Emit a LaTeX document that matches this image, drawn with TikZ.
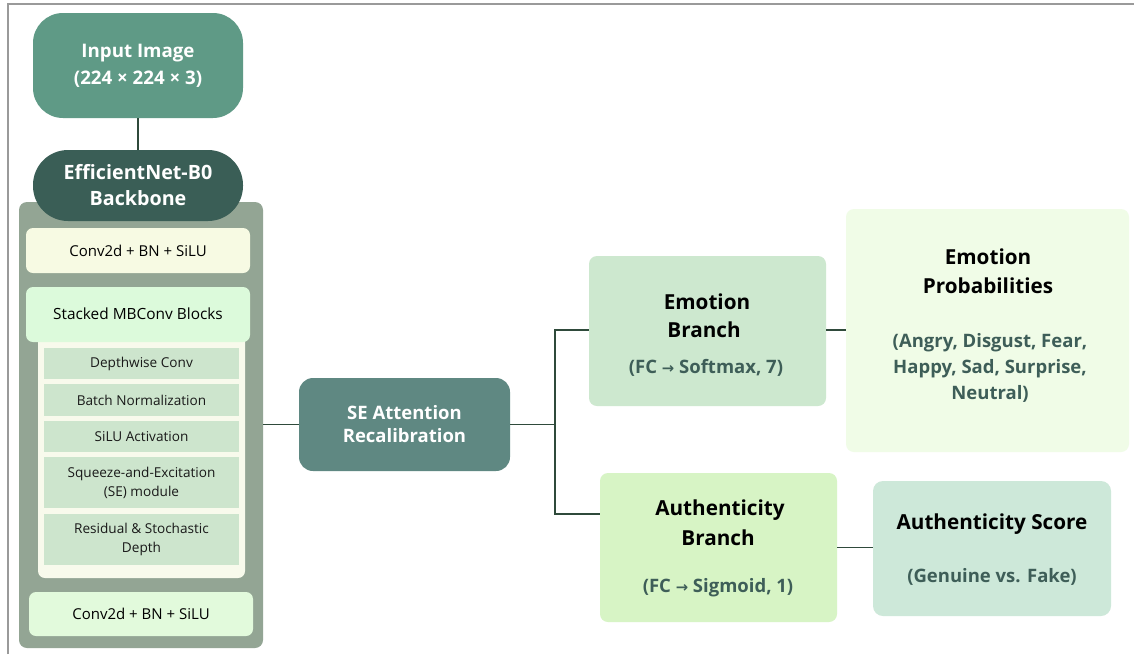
\documentclass[tikz,border=0pt]{standalone}
\usepackage{fontspec}
\setmainfont{Open Sans}
\newfontfamily\symfont{DejaVu Sans}
\definecolor{inputc}{HTML}{5F9A86}
\definecolor{backc}{HTML}{3A5E56}
\definecolor{grayc}{HTML}{93A594}
\definecolor{convA}{HTML}{F7FAE3}
\definecolor{mbc}{HTML}{DCFADB}
\definecolor{innerc}{HTML}{F8FAEC}
\definecolor{subc}{HTML}{CDE5CD}
\definecolor{convB}{HTML}{E2FADC}
\definecolor{sec}{HTML}{5F8882}
\definecolor{emoc}{HTML}{CDE8CF}
\definecolor{authc}{HTML}{D7F4C5}
\definecolor{probc}{HTML}{F0FCE7}
\definecolor{scorec}{HTML}{CDE8D9}
\definecolor{linec}{HTML}{2F4A3B}
\definecolor{subtxt}{HTML}{3E5E58}
\definecolor{framec}{HTML}{9A9A9A}
\newcommand{\arr}{{\symfont\scalebox{0.8}{→}}}
% rectangular node spanning (x1,y1)-(x2,y2): name, x1, y1, x2, y2, style, text
\newcommand{\rbox}[7]{%
  \node[#6, minimum width={(#4-#2)*1pt}, minimum height={(#5-#3)*1pt}]
    (#1) at ({(#2+#4)/2},{(#3+#5)/2}) {#7};}
\tikzset{
  blk/.style={rectangle, inner sep=0pt, draw=none, align=center},
  conn/.style={draw=linec, line width=1.5pt},
  ttl/.style={inner sep=0pt, font=\fontsize{20.7}{24}\selectfont\bfseries, text=black},
  sub/.style={inner sep=0pt, align=center, font=\fontsize{18.5}{26}\selectfont\bfseries, text=subtxt},
  small/.style={font=\fontsize{13.6}{19}\selectfont, text=black!90},
  conv/.style={font=\fontsize{15}{17}\selectfont, text=black},
}
\begin{document}
\begin{tikzpicture}[x=1pt,y=-1pt]
\useasboundingbox (0,0) rectangle (1134,654);
\fill[white] (0,0) rectangle (1134,654);
\draw[framec, line width=1.3pt] (8,654) -- (8,4) -- (1134,4);

% backbone column
\rbox{container}{19}{202}{263}{648}{blk, fill=grayc, rounded corners=8pt}{}
\rbox{input}{33}{13}{243}{118}{blk, fill=inputc, rounded corners=30pt, text=white,
  font=\fontsize{18.7}{27}\selectfont\bfseries}{Input Image\\(224 × 224 × 3)}
\rbox{backbone}{33}{150}{243}{221}{blk, fill=backc, rounded corners=35pt, text=white,
  font=\fontsize{19.7}{26}\selectfont\bfseries}{EfficientNet-B0\\Backbone}
\rbox{convA}{26}{228}{250}{273}{blk, fill=convA, rounded corners=7pt, conv}{Conv2d + BN + SiLU}
\rbox{inner}{38}{334}{245}{578}{blk, fill=innerc, rounded corners=7pt}{}
\rbox{mb}{26}{287}{250}{342}{blk, fill=mbc, rounded corners=7pt}{}
\node[inner sep=0pt, font=\fontsize{15.4}{18}\selectfont, text=black] (mbtxt) at (138,314) {Stacked MBConv Blocks};
\rbox{dw}{44}{348}{239}{379}{blk, fill=subc, small}{Depthwise Conv}
\rbox{bn}{44}{384}{239}{416}{blk, fill=subc, small}{Batch Normalization}
\rbox{act}{44}{421}{239}{452}{blk, fill=subc, small}{SiLU Activation}
\rbox{sem}{44}{457}{239}{508}{blk, fill=subc, small}{Squeeze-and-Excitation\\(SE) module}
\rbox{res}{44}{514}{239}{565}{blk, fill=subc, small}{Residual \& Stochastic\\Depth}
\rbox{convB}{29}{592}{253}{636}{blk, fill=convB, rounded corners=7pt, conv}{Conv2d + BN + SiLU}

% attention and heads
\rbox{se}{299}{378}{510}{471}{blk, fill=sec, rounded corners=14pt, text=white,
  font=\fontsize{18.5}{23}\selectfont\bfseries}{SE Attention\\Recalibration}
\rbox{emo}{589}{256}{826}{406}{blk, fill=emoc, rounded corners=8pt}{}
\rbox{auth}{600}{473}{837}{622}{blk, fill=authc, rounded corners=8pt}{}
\rbox{prob}{846}{209}{1129}{452}{blk, fill=probc, rounded corners=8pt}{}
\rbox{score}{873}{481}{1111}{616}{blk, fill=scorec, rounded corners=10pt}{}

\node[ttl] (emot1) at (707,302) {Emotion};
\node[ttl] (emot2) at (704,330) {Branch};
\node[sub] (emos) at (706,368) {(FC \arr\ Softmax, 7)};
\node[ttl] (autht1) at (720,510) {Authenticity};
\node[ttl] (autht2) at (718,538) {Branch};
\node[sub] (auths) at (718,588) {(FC \arr\ Sigmoid, 1)};
\node[ttl] (probt1) at (988,257) {Emotion};
\node[ttl] (probt2) at (988,286) {Probabilities};
\node[sub] (probs) at (990,368) {(Angry, Disgust, Fear,\\Happy, Sad, Surprise,\\Neutral)};
\node[ttl] (scoret) at (992,524) {Authenticity Score};
\node[sub] (scores) at (992,577) {(Genuine vs. Fake)};

% connectors
\draw[conn] (input.south) -- (backbone.north);
\draw[conn] (se.west -| container.east) -- (se.west);
\coordinate (split) at (555,424.5);
\draw[conn] (se.east) -- (split);
\draw[conn] ([yshift=1pt]emo.west) -| (split);
\draw[conn] (split) |- ([yshift=33.5pt]auth.west);
\draw[conn] ([yshift=1pt]emo.east) -- ([yshift=1pt]emo.east -| prob.west);
\draw[conn] (auth.east) -- (auth.east -| score.west);
\end{tikzpicture}
\end{document}
